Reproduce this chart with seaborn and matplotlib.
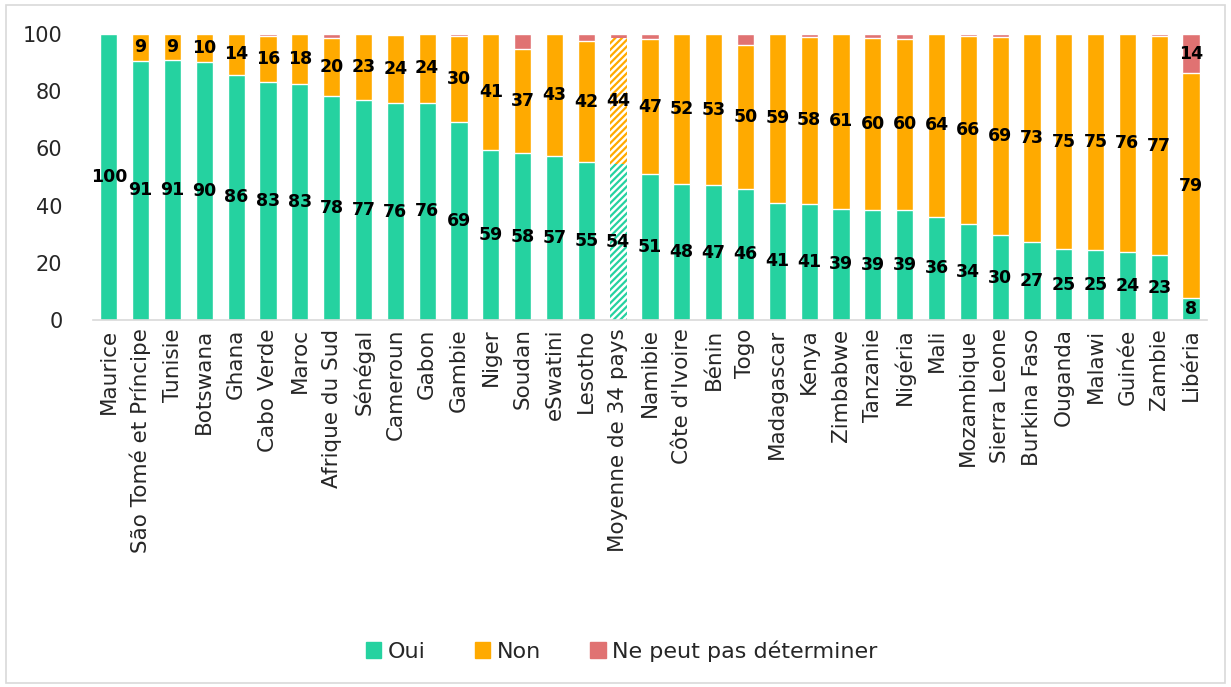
import math
import matplotlib
matplotlib.use("Agg")
import matplotlib.pyplot as plt
import matplotlib.patches as mpatches
import seaborn as sns
import pandas as pd

# categories, in the order of the chart
pays = ["Maurice", "São Tomé et Príncipe", "Tunisie", "Botswana", "Ghana",
        "Cabo Verde", "Maroc", "Afrique du Sud", "Sénégal", "Cameroun",
        "Gabon", "Gambie", "Niger", "Soudan", "eSwatini", "Lesotho",
        "Moyenne de 34 pays", "Namibie", "Côte d'Ivoire", "Bénin", "Togo",
        "Madagascar", "Kenya", "Zimbabwe", "Tanzanie", "Nigéria", "Mali",
        "Mozambique", "Sierra Leone", "Burkina Faso", "Ouganda", "Malawi",
        "Guinée", "Zambie", "Libéria"]

oui = [100, 90.7, 90.8, 90.3, 85.8, 83.4, 82.5, 78.4, 76.8, 75.8,
       76.0, 69.1, 59.4, 58.3, 57.4, 55.4, 54.4, 50.9, 47.6, 47.1,
       45.9, 41.0, 40.7, 38.9, 38.6, 38.6, 36.1, 33.6, 29.8, 27.2,
       24.8, 24.6, 23.9, 22.6, 7.6]
non = [0, 9.3, 9.2, 9.7, 14.2, 16.0, 17.5, 20.2, 23.2, 23.8,
       24.0, 30.3, 40.6, 36.6, 42.6, 42.0, 44.2, 47.2, 52.4, 52.9,
       50.3, 59.0, 58.4, 61.1, 59.9, 59.7, 63.9, 65.7, 69.0, 72.8,
       75.2, 75.4, 76.1, 76.8, 78.6]
autre = [0, 0, 0, 0, 0, 0.6, 0, 1.4, 0, 0.4,
         0, 0.6, 0, 5.1, 0, 2.6, 1.4, 1.9, 0, 0,
         3.8, 0, 0.9, 0, 1.5, 1.7, 0, 0.7, 1.2, 0,
         0, 0, 0, 0.6, 13.8]

series = ["Oui", "Non", "Ne peut pas déterminer"]
colors = ["#25D2A0", "#FFAA00", "#E07272"]
moyenne = "Moyenne de 34 pays"

df = pd.DataFrame({"pays": pays, "oui": oui, "non": non, "autre": autre})
df["cum_non"] = df["oui"] + df["non"]
df["cum_autre"] = df["cum_non"] + df["autre"]


def arrondi(v):
    # round half up, like the spreadsheet labels
    return str(int(math.floor(v + 0.5)))


sns.set_style("white")
plt.rcParams["font.family"] = ["DejaVu Sans"]
plt.rcParams["hatch.linewidth"] = 1.6

fig = plt.figure(figsize=(12.31, 6.87), dpi=100)
ax = fig.add_axes([0.0755, 0.534, 0.905, 0.4165])

# stacked bars drawn back to front with cumulative heights
w = 0.54
sns.barplot(data=df, x="pays", y="cum_autre", color=colors[2], width=w,
            saturation=1, ax=ax)
sns.barplot(data=df, x="pays", y="cum_non", color=colors[1], width=w,
            saturation=1, ax=ax)
sns.barplot(data=df, x="pays", y="oui", color=colors[0], width=w,
            saturation=1, ax=ax)

# hatched average bar
im = pays.index(moyenne)
n = len(pays)
for layer, col in zip(range(3), [colors[2], colors[1], colors[0]]):
    p = ax.patches[layer * n + im]
    if layer == 0:
        continue
    p.set_facecolor("white")
    p.set_edgecolor(col)
    p.set_hatch("/////")
    p.set_linewidth(0)

# data labels
lab = dict(ha="center", va="center", fontsize=12.5, fontweight="bold", color="black")
for i in range(n):
    ax.text(i, oui[i] / 2, arrondi(oui[i]), **lab)
    if non[i] >= 0.5:
        ax.text(i, oui[i] + non[i] / 2, arrondi(non[i]), **lab)
    if autre[i] >= 10:
        ax.text(i, oui[i] + non[i] + autre[i] / 2, arrondi(autre[i]), **lab)

ax.set_ylim(0, 100)
ax.set_xlim(-0.5, n - 0.5)
ax.set_yticks([0, 20, 40, 60, 80, 100])
ax.set_xlabel("")
ax.set_ylabel("")
ax.tick_params(axis="y", labelsize=15, length=0, pad=22)
ax.tick_params(axis="x", labelsize=15.5, length=0, rotation=90, pad=6)
for s in ["top", "right", "left"]:
    ax.spines[s].set_visible(False)
ax.spines["bottom"].set_color("#D9D9D9")
ax.spines["bottom"].set_linewidth(1.2)

handles = [mpatches.Patch(color=c, label=s) for c, s in zip(colors, series)]
fig.legend(handles=handles, loc="center", bbox_to_anchor=(0.505, 0.052),
           ncol=3, frameon=False, fontsize=16, handlelength=0.7,
           handleheight=0.7, handletextpad=0.3, columnspacing=2.2)

# light frame around the whole chart
fig.add_artist(mpatches.Rectangle((0.005, 0.006), 0.99, 0.987,
                                  transform=fig.transFigure, fill=False,
                                  edgecolor="#D9D9D9", linewidth=1.2))

fig.savefig("out.png", dpi=100)
